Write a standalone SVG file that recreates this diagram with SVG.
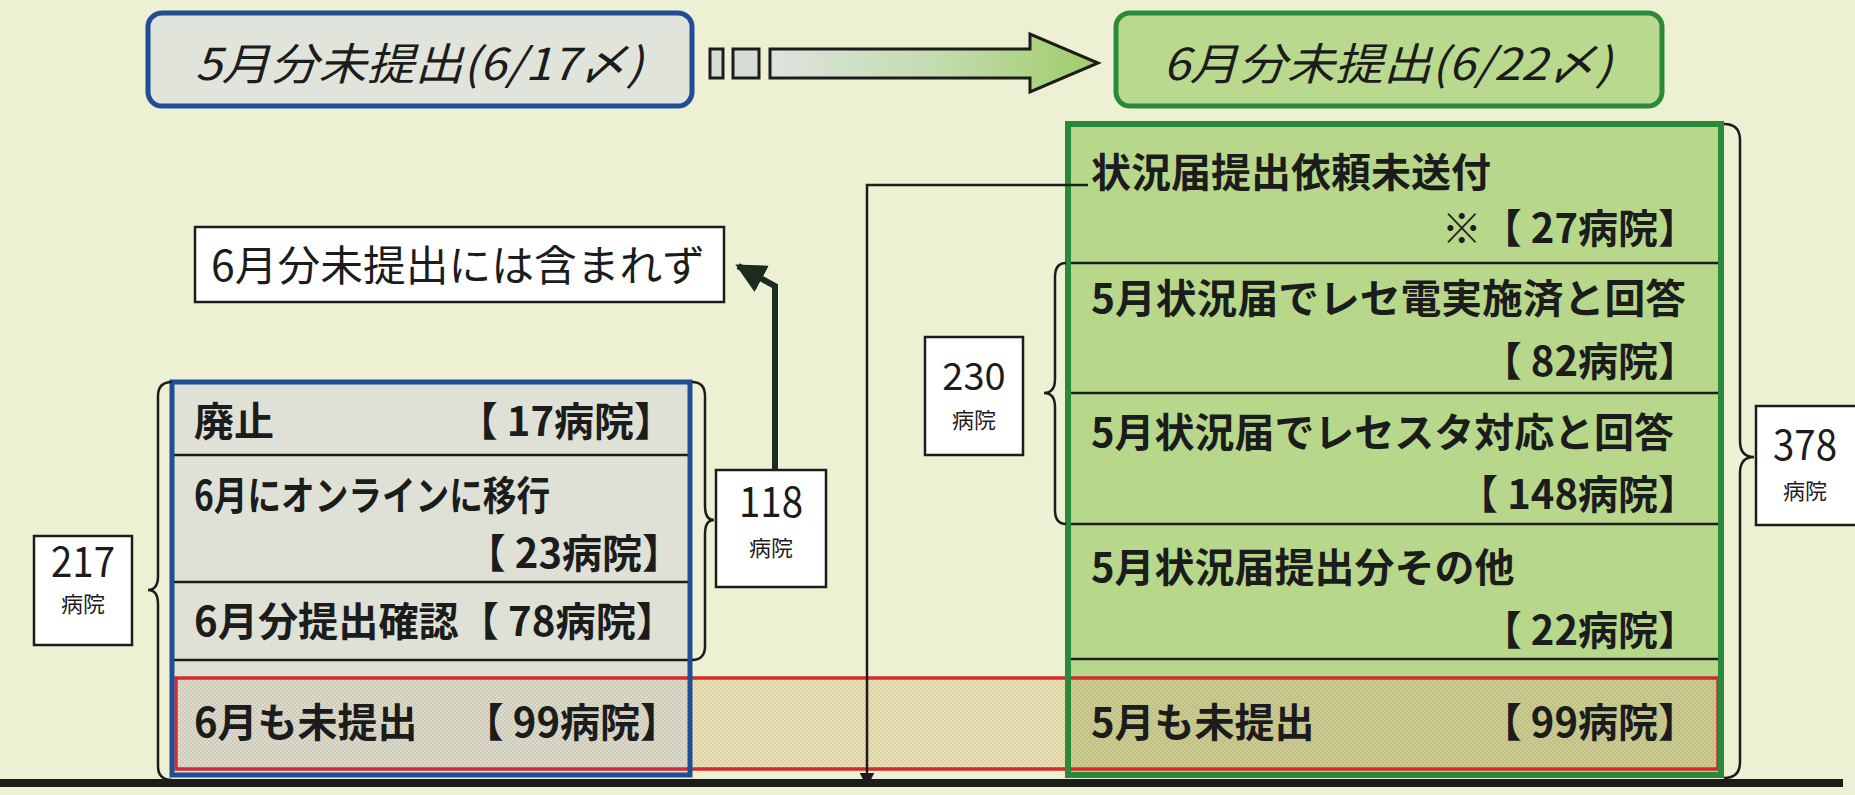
<svg xmlns="http://www.w3.org/2000/svg" width="1855" height="795" viewBox="0 0 1855 795">
<style>
.t{font-family:"Noto Sans CJK JP","Noto Sans",sans-serif;fill:#1c1c1c}
.b{font-weight:bold;font-size:40px}
.it{font-style:italic;font-size:44px}
.num{font-size:42px}
.unit{font-size:22px}
.line{fill:none;stroke:#1c1c1c;stroke-width:2.5}
.brace{fill:none;stroke:#1c1c1c;stroke-width:2.5}
.div{stroke:#1c1c1c;stroke-width:2.5}
.wbox{fill:#ffffff;stroke:#1c1c1c;stroke-width:2.5}
</style>
<defs>
<pattern id="dots" width="4" height="4" patternUnits="userSpaceOnUse">
<circle cx="1" cy="1" r="0.8" fill="#6e664e" fill-opacity="0.3"/>
<circle cx="3" cy="3" r="0.8" fill="#6e664e" fill-opacity="0.3"/>
</pattern>
<linearGradient id="ag" x1="0" y1="0" x2="1" y2="0">
<stop offset="0" stop-color="#dde4dd"/>
<stop offset="0.5" stop-color="#c4dcb0"/>
<stop offset="1" stop-color="#9ecd68"/>
</linearGradient>
<marker id="ahUp" viewBox="0 0 10 10" refX="9" refY="5" markerWidth="5" markerHeight="5" orient="auto" markerUnits="strokeWidth">
<path d="M0,0 L10,5 L0,10 Z" fill="#1c2a20"/>
</marker>
<marker id="ahDown" viewBox="0 0 10 10" refX="9" refY="5" markerWidth="6" markerHeight="6" orient="auto" markerUnits="strokeWidth">
<path d="M0,0 L10,5 L0,10 Z" fill="#1c1c1c"/>
</marker>
</defs>

<rect x="0" y="0" width="1855" height="795" fill="#eef0d3"/>

<!-- box fills -->
<rect x="172" y="382" width="518" height="393" fill="#dfe1d6"/>
<rect x="1068" y="124" width="653" height="651" fill="#b7d88b"/>
<!-- red row backgrounds -->
<rect x="176" y="678" width="514" height="91" fill="#dcdacb"/>
<rect x="690" y="678" width="378" height="91" fill="#ebe2b6"/>
<rect x="1068" y="678" width="650" height="91" fill="#cccc90"/>
<rect x="176" y="678" width="1542" height="91" fill="url(#dots)"/>

<!-- top left box -->
<g id="may-box">
<rect x="148" y="13" width="544" height="93" rx="14" fill="#e1e4da" stroke="#1f4d96" stroke-width="5"/>
<text class="t it" x="195" y="80" textLength="448" lengthAdjust="spacingAndGlyphs">5月分未提出(6/17〆)</text>
</g>

<!-- flow arrow -->
<g id="flow-arrow">
<rect x="710" y="49" width="13" height="29" fill="#d6ddd4" stroke="#1c1c1c" stroke-width="3"/>
<rect x="733" y="49" width="26" height="29" fill="#d6ddd4" stroke="#1c1c1c" stroke-width="3"/>
<path d="M770,49 L1030,49 L1030,34 L1098,63 L1030,92 L1030,78 L770,78 Z" fill="url(#ag)" stroke="#1c1c1c" stroke-width="3" stroke-linejoin="miter"/>
</g>

<!-- top right box -->
<g id="june-box">
<rect x="1116" y="13" width="546" height="93" rx="14" fill="#b9d98e" stroke="#2a8a3a" stroke-width="5"/>
<text class="t it" x="1163" y="80" textLength="449" lengthAdjust="spacingAndGlyphs">6月分未提出(6/22〆)</text>
</g>

<!-- not included box -->
<g id="not-included">
<rect class="wbox" x="195" y="227" width="529" height="75"/>
<text class="t" x="211" y="281" font-size="42" textLength="494" lengthAdjust="spacingAndGlyphs">6月分未提出には含まれず</text>
</g>

<!-- left blue box rows -->
<g id="may-rows">
<line class="div" x1="172" y1="455" x2="690" y2="455"/>
<line class="div" x1="172" y1="582" x2="690" y2="582"/>
<line class="div" x1="172" y1="660" x2="690" y2="660"/>
<text class="t b" x="194" y="436">廃止</text>
<text class="t b" x="674" y="436" text-anchor="end">【 17病院】</text>
<text class="t b" x="194" y="510" textLength="356" lengthAdjust="spacingAndGlyphs">6月にオンラインに移行</text>
<text class="t b" x="682" y="568" text-anchor="end">【 23病院】</text>
<text class="t b" x="194" y="636" textLength="482" lengthAdjust="spacingAndGlyphs">6月分提出確認【 78病院】</text>
</g>

<!-- right green box rows -->
<g id="june-rows">
<line class="div" x1="1068" y1="263" x2="1721" y2="263"/>
<line class="div" x1="1068" y1="393" x2="1721" y2="393"/>
<line class="div" x1="1068" y1="524" x2="1721" y2="524"/>
<line class="div" x1="1068" y1="659" x2="1721" y2="659"/>
<text class="t b" x="1091" y="187">状況届提出依頼未送付</text>
<text class="t b" x="1698" y="243" text-anchor="end">※【 27病院】</text>
<text class="t b" x="1091" y="313" textLength="595" lengthAdjust="spacingAndGlyphs">5月状況届でレセ電実施済と回答</text>
<text class="t b" x="1698" y="376" text-anchor="end">【 82病院】</text>
<text class="t b" x="1091" y="447" textLength="583" lengthAdjust="spacingAndGlyphs">5月状況届でレセスタ対応と回答</text>
<text class="t b" x="1698" y="509" text-anchor="end">【 148病院】</text>
<text class="t b" x="1091" y="582">5月状況届提出分その他</text>
<text class="t b" x="1698" y="645" text-anchor="end">【 22病院】</text>
</g>

<!-- red row -->
<g id="both-unsubmitted">
<rect x="176" y="678" width="1542" height="91" fill="none" stroke="#d42a2a" stroke-width="3.5"/>
<text class="t b" x="194" y="737">6月も未提出</text>
<text class="t b" x="680" y="737" text-anchor="end">【 99病院】</text>
<text class="t b" x="1091" y="737">5月も未提出</text>
<text class="t b" x="1698" y="737" text-anchor="end">【 99病院】</text>
</g>

<!-- box outlines -->
<g id="may-frame">
<rect x="172" y="382" width="518" height="393" fill="none" stroke="#1f4d96" stroke-width="5"/>
</g>
<g id="june-frame">
<rect x="1068" y="124" width="653" height="651" fill="none" stroke="#2a8a3a" stroke-width="6"/>
</g>

<!-- baseline -->
<rect x="0" y="779" width="1843" height="8" fill="#1c1c1c"/>

<!-- count boxes -->
<g id="count-217">
<path class="brace" d="M172,382 Q158,382 158,396 L158,576 Q158,590 148,590 Q158,590 158,604 L158,766 Q158,780 172,780"/>
<rect class="wbox" x="34" y="536" width="98" height="109"/>
<text class="t num" x="83" y="577" text-anchor="middle" textLength="64" lengthAdjust="spacingAndGlyphs">217</text>
<text class="t unit" x="83" y="612" text-anchor="middle">病院</text>
</g>
<g id="count-118">
<path class="brace" d="M692,382 Q705,382 705,396 L705,506 Q705,520 714,520 Q705,520 705,534 L705,646 Q705,660 692,660"/>
<rect class="wbox" x="716" y="470" width="110" height="117"/>
<text class="t num" x="771" y="517" text-anchor="middle" textLength="64" lengthAdjust="spacingAndGlyphs">118</text>
<text class="t unit" x="771" y="556" text-anchor="middle">病院</text>
</g>
<g id="count-230">
<path class="brace" d="M1066,263 Q1055,263 1055,277 L1055,379 Q1055,393 1044,393 Q1055,393 1055,407 L1055,510 Q1055,524 1066,524"/>
<rect class="wbox" x="925" y="337" width="98" height="118"/>
<text class="t" x="974" y="390" font-size="38" text-anchor="middle">230</text>
<text class="t unit" x="974" y="428" text-anchor="middle">病院</text>
</g>
<g id="count-378">
<path class="brace" d="M1724,124 Q1740,124 1740,140 L1740,441 Q1740,457 1754,457 Q1740,457 1740,473 L1740,762 Q1740,778 1724,778"/>
<rect class="wbox" x="1756" y="406" width="104" height="119"/>
<text class="t num" x="1805" y="460" text-anchor="middle" textLength="64" lengthAdjust="spacingAndGlyphs">378</text>
<text class="t unit" x="1805" y="499" text-anchor="middle">病院</text>
</g>

<!-- connectors -->
<g id="connectors">
<path d="M775,470 L775,286 L738,266" fill="none" stroke="#1c2a20" stroke-width="6" marker-end="url(#ahUp)"/>
<path class="line" d="M1088,185 L867,185 L867,786" marker-end="url(#ahDown)"/>
</g>
</svg>
